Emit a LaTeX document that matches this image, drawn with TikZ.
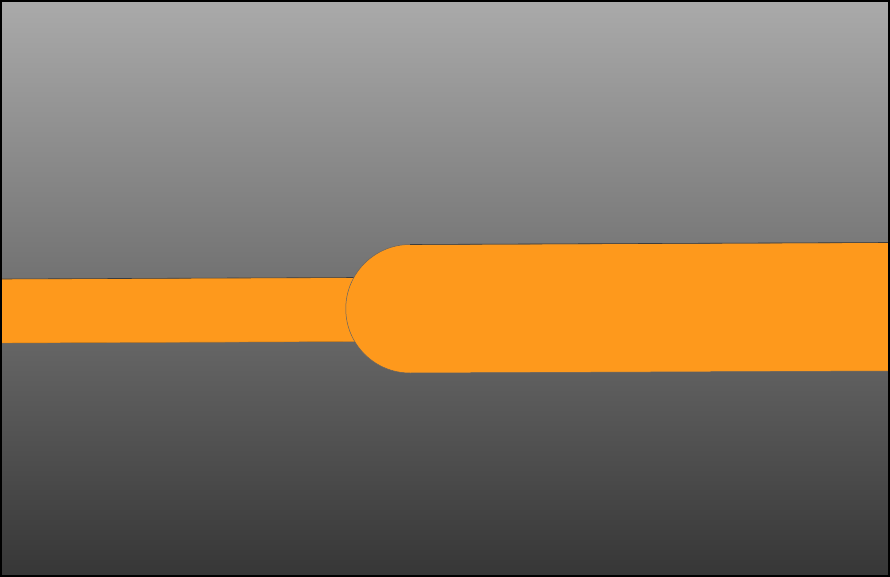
\documentclass[tikz,border=0pt]{standalone}
\definecolor{bgtop}{RGB}{170,170,170}
\definecolor{bgbot}{RGB}{54,54,54}
\definecolor{trace}{RGB}{254,153,28}
\definecolor{edge}{RGB}{60,60,60}
\tikzset{tracefill/.style={fill=trace}, traceedge/.style={draw=edge, line width=0.6pt}}
\begin{document}
\begin{tikzpicture}[x=1pt,y=-1pt]
\useasboundingbox (0,0) rectangle (890,577);
\shade[top color=bgtop, bottom color=bgbot] (0,0) rectangle (890,577);
% left narrow strip
\fill[tracefill] (0,279) -- (358,277.5) -- (358,341.5) -- (0,343) -- cycle;
\draw[traceedge] (0,279) -- (358,277.5);
\draw[trace!80!black, line width=0.4pt] (0,343) -- (354,341.5);
% right wide strip with rounded end
\path[tracefill, draw=edge!80, line width=0.5pt] (890,242.5) -- (410,244.5) arc[start angle=90, end angle=270, x radius=64.25, y radius=-64.25] -- (890,371) -- cycle;
\draw[traceedge] (890,242.5) -- (410,244.5);
% frame
\draw[black, line width=2pt] (1,1) rectangle (889,576);
\end{tikzpicture}
\end{document}
